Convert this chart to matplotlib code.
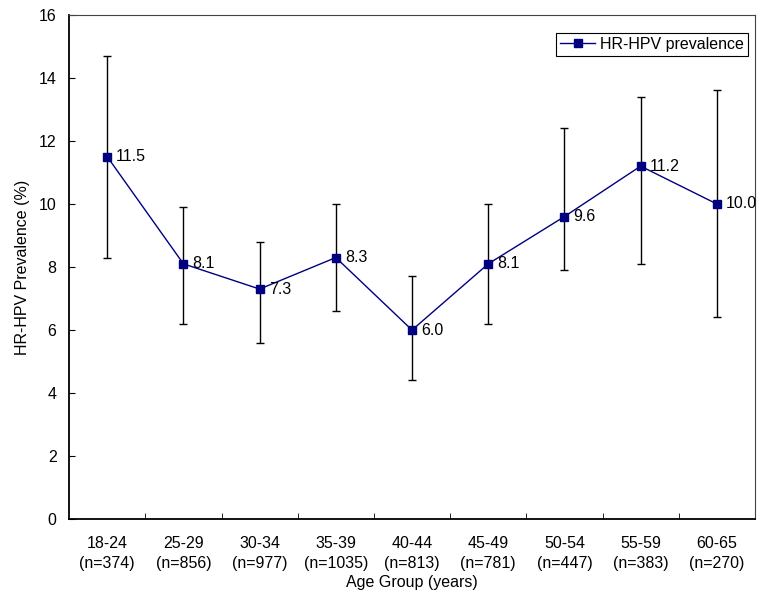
import matplotlib.pyplot as plt
import numpy as np

plt.rcParams['font.family'] = ['Liberation Sans', 'DejaVu Sans']

grupos = ["18-24", "25-29", "30-34", "35-39", "40-44", "45-49", "50-54", "55-59", "60-65"]
n_casos = [374, 856, 977, 1035, 813, 781, 447, 383, 270]
prevalencia = [11.5, 8.1, 7.3, 8.3, 6.0, 8.1, 9.6, 11.2, 10.0]
ic_sup = [14.7, 9.9, 8.8, 10.0, 7.7, 10.0, 12.4, 13.4, 13.6]
ic_inf = [8.3, 6.2, 5.6, 6.6, 4.4, 6.2, 7.9, 8.1, 6.4]

x = np.arange(len(grupos))
prev = np.array(prevalencia)
erro = [prev - np.array(ic_inf), np.array(ic_sup) - prev]

fs = 11.5

fig, ax = plt.subplots(figsize=(7.68, 5.94), dpi=100)
fig.subplots_adjust(left=0.09, right=0.983, top=0.975, bottom=0.126)

ax.errorbar(x, prev, yerr=erro, fmt="none", ecolor="black", elinewidth=1,
            capsize=2.7, capthick=1, zorder=2)
ax.plot(x, prev, color="#000080", linewidth=1, marker="s", markersize=5.5,
        label="HR-HPV prevalence", zorder=3)

for xi, v in zip(x, prev):
    ax.annotate(f"{v:.1f}", (xi, v), xytext=(6.5, 0), textcoords="offset points",
                va="center", ha="left", fontsize=fs, color="black")

ax.set_xlim(-0.5, len(grupos) - 0.5)
ax.set_ylim(0, 16)
ax.set_yticks(np.arange(0, 17, 2))
ax.tick_params(axis="y", direction="in", length=4, labelsize=fs, pad=9)
ax.set_xticks(x)
ax.set_xticklabels([f"{g}\n(n={n})" for g, n in zip(grupos, n_casos)],
                   fontsize=fs, linespacing=1.45)
ax.tick_params(axis="x", length=0, pad=12)
ax.set_xticks(np.arange(0.5, len(grupos) - 0.5, 1), minor=True)
ax.tick_params(axis="x", which="minor", direction="in", length=4)

ax.set_xlabel("Age Group (years)", fontsize=fs, labelpad=3)
ax.set_ylabel("HR-HPV Prevalence (%)", fontsize=fs, labelpad=6)

for lado in ["left", "bottom"]:
    ax.spines[lado].set_linewidth(1.3)
for lado in ["top", "right"]:
    ax.spines[lado].set_linewidth(0.8)
    ax.spines[lado].set_color("#444444")

leg = ax.legend(loc="upper right", fontsize=fs, fancybox=False, framealpha=1,
                edgecolor="black", borderpad=0.25, handlelength=2.2,
                handletextpad=0.3, borderaxespad=0,
                bbox_to_anchor=(0.99, 0.964))
leg.get_frame().set_linewidth(0.8)

plt.savefig("out.png", dpi=100)
plt.close()
